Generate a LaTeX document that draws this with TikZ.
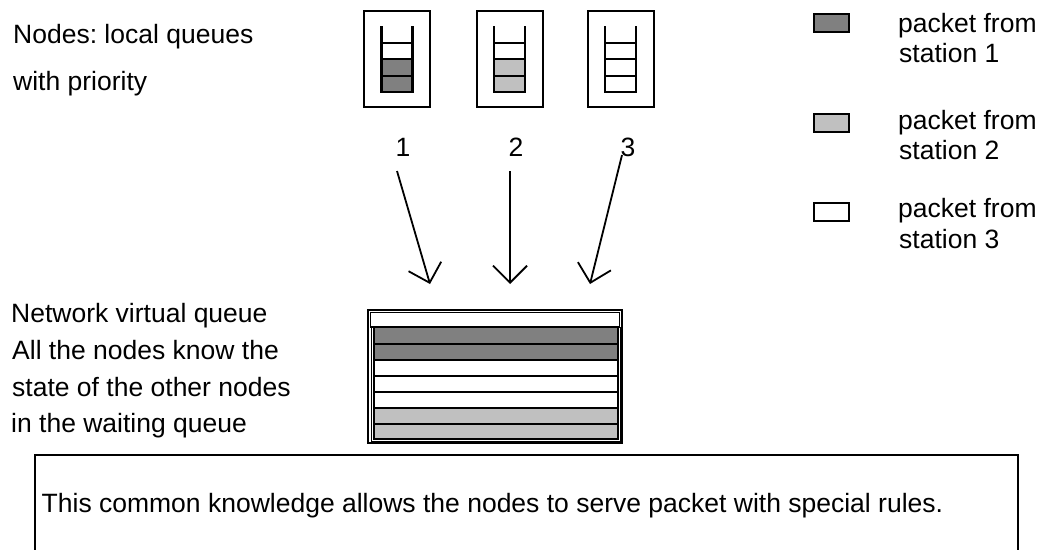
\documentclass[tikz,border=0pt]{standalone}
\usepackage{fontspec}
\setmainfont{Liberation Sans}
\usetikzlibrary{arrows.meta}
\definecolor{pktA}{HTML}{808080}
\definecolor{pktB}{HTML}{C0C0C0}
\frenchspacing
\begin{document}
\begin{tikzpicture}[x=1pt,y=-1pt,
  every node/.style={font=\fontsize{26.5}{30}\selectfont, inner sep=0pt},
  txt/.style={anchor=base west},
  frame/.style={draw, line width=2pt},
  station/.style={frame, minimum width=66pt, minimum height=96pt},
  ladder/.style={line width=2.2pt},
  flow/.style={line width=1.8pt, -{Straight Barb[length=17pt,width=34pt]}},
  slot/.style={draw, line width=2pt},
  key/.style={draw, line width=2pt, minimum width=35pt, minimum height=18pt}
]
\useasboundingbox (0,0) rectangle (1044,549);
\fill[white] (0,0) rectangle (1044,549);

% local queues of the three stations
\node[station] (q1) at (397,59) {};
\node[station] (q2) at (509.5,59) {};
\node[station] (q3) at (620.5,59) {};
\foreach \q/\c in {q1/pktA, q2/pktB, q3/white} {
  \begin{scope}[shift={(\q.center)}]
    \fill[\c] (-15.5,0) rectangle (15.5,33);
    \draw[ladder] (-15.5,-33) -- (-15.5,33) -- (15.5,33) -- (15.5,-33);
    \foreach \y in {-16,0,17} \draw[ladder] (-15.5,\y) -- (15.5,\y);
  \end{scope}
}

% station numbers
\node (n1) at (403,147) {1};
\node (n2) at (516,147) {2};
\node (n3) at (628,147) {3};

% packets flowing into the shared queue
\coordinate (s1) at (397,171); \coordinate (e1) at (430,284);
\coordinate (s2) at (510,171); \coordinate (e2) at (510,284);
\coordinate (s3) at (622,155); \coordinate (e3) at (590,284);
\draw[flow] (s1) -- (e1);
\draw[flow] (s2) -- (e2);
\draw[flow] (s3) -- (e3);

% network virtual queue
\node[draw, line width=1.5pt, minimum width=254pt, minimum height=133pt] (vq) at (495,376.5) {};
\draw[line width=1.8pt] (370.5,312.5) rectangle (619.5,327);
\draw[line width=1pt] (371,327) rectangle (620,441);
\foreach \a/\b/\c in {327/344/pktA, 344/360/pktA, 360/376/white, 376/392/white,
                      392/408/white, 408/424/pktB, 424/439/pktB}
  \draw[slot, fill=\c] (374,\a) rectangle (618,\b);

% left-hand captions
\node[txt] (t1) at (13,43) {Nodes: local queues};
\node[txt] (t2) at (13,90) {with priority};
\node[txt] (t3) at (11,322) {Network virtual queue};
\node[txt] (t4) at (12,359) {All the nodes know the};
\node[txt] (t5) at (12,396) {state of the other nodes};
\node[txt] (t6) at (11,432) {in the waiting queue};

% legend
\node[key, fill=pktA] (k1) at (831.5,23) {};
\node[key, fill=pktB] (k2) at (831.5,123) {};
\node[key, fill=white] (k3) at (831.5,211.5) {};
\node[txt] (k1a) at (898,32) {packet from};
\node[txt] (k1b) at (899,62) {station 1};
\node[txt] (k2a) at (898,129) {packet from};
\node[txt] (k2b) at (899,159) {station 2};
\node[txt] (k3a) at (898,217) {packet from};
\node[txt] (k3b) at (899,248) {station 3};

% note at the bottom
\draw[line width=1.8pt] (35,560) |- (1018,455) -- (1018,560);
\node[txt] (note) at (41.5,512) {This common knowledge allows the nodes to serve packet with special rules.};
\end{tikzpicture}
\end{document}
